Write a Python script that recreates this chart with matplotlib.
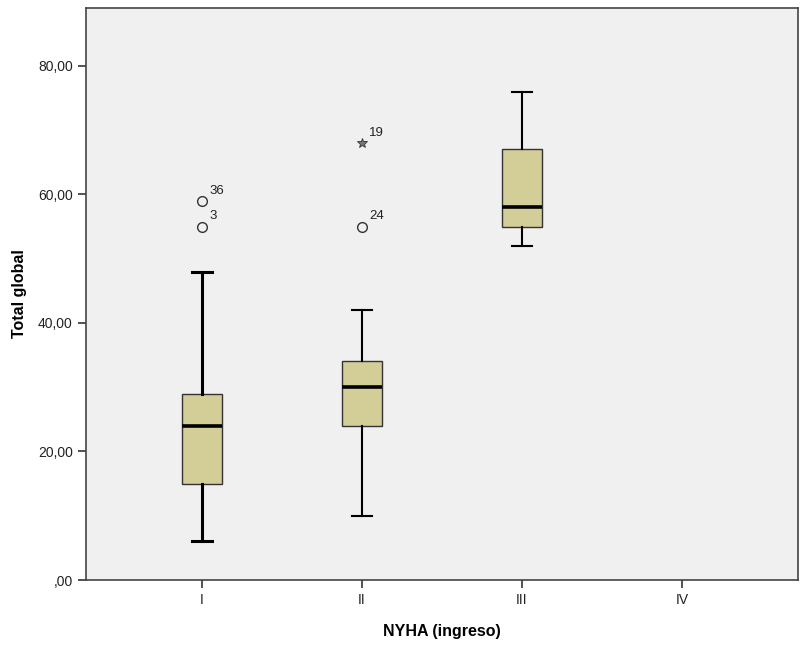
import matplotlib
matplotlib.use("Agg")
import matplotlib.pyplot as plt

plt.rcParams['font.family'] = ['Liberation Sans', 'DejaVu Sans']

# NYHA classes and box stats
categories = ["I", "II", "III", "IV"]
q1 = [15, 24, 55]
med = [24, 30, 58]
q3 = [29, 34, 67]
whislo = [6, 10, 52]
whishi = [48, 42, 76]

# outliers: (category index, value, case label, marker)
out_cat = [0, 0, 1, 1]
out_val = [59, 55, 55, 68]
out_lab = ["36", "3", "24", "19"]
out_mark = ["o", "o", "o", "*"]

FILL = "#d3ce97"
BG = "#f0f0f0"

fig = plt.figure(figsize=(8.01, 6.49), dpi=100)
ax = fig.add_axes([0.1074, 0.1063, 0.8889, 0.8814])
ax.set_facecolor(BG)

stats = []
for i in range(len(q1)):
    stats.append(dict(med=med[i], q1=q1[i], q3=q3[i],
                      whislo=whislo[i], whishi=whishi[i], fliers=[]))

# first box is drawn with heavier whiskers in the original
for i, s in enumerate(stats):
    lw = 2.2 if i == 0 else 1.5
    ax.bxp([s], positions=[i], widths=0.25, patch_artist=True, showfliers=False,
           boxprops=dict(facecolor=FILL, edgecolor="#333333", linewidth=1.0),
           medianprops=dict(color="black", linewidth=2.6),
           whiskerprops=dict(color="black", linewidth=lw),
           capprops=dict(color="black", linewidth=lw),
           capwidths=0.125, manage_ticks=False)

for c, v, lab, m in zip(out_cat, out_val, out_lab, out_mark):
    if m == "o":
        ax.plot(c, v, marker="o", ms=7, mfc="none", mec="#333333", mew=1.0, ls="none")
    else:
        ax.plot(c, v, marker="*", ms=7, mfc="#777777", mec="#333333", mew=0.6, ls="none")
    ax.annotate(lab, (c, v), xytext=(5, 3), textcoords="offset points",
                fontsize=9.5, color="#222222", ha="left", va="bottom")

ax.set_xlim(-0.725, 3.725)
ax.set_ylim(0, 89)
ax.set_xticks(range(len(categories)))
ax.set_xticklabels(categories)
yt = [0, 20, 40, 60, 80]
ax.set_yticks(yt)
ax.set_yticklabels([",00" if v == 0 else f"{v:.2f}".replace(".", ",") for v in yt])
ax.tick_params(axis="both", direction="out", length=6, width=1.2, color="#333333",
               labelsize=10, labelcolor="#222222")
for sp in ax.spines.values():
    sp.set_color("#444444")
    sp.set_linewidth(1.2)

ax.set_xlabel("NYHA (ingreso)", fontsize=11.5, fontweight="bold", labelpad=12)
ax.set_ylabel("Total global", fontsize=11.5, fontweight="bold", labelpad=8)

fig.savefig("out.png", dpi=100)
